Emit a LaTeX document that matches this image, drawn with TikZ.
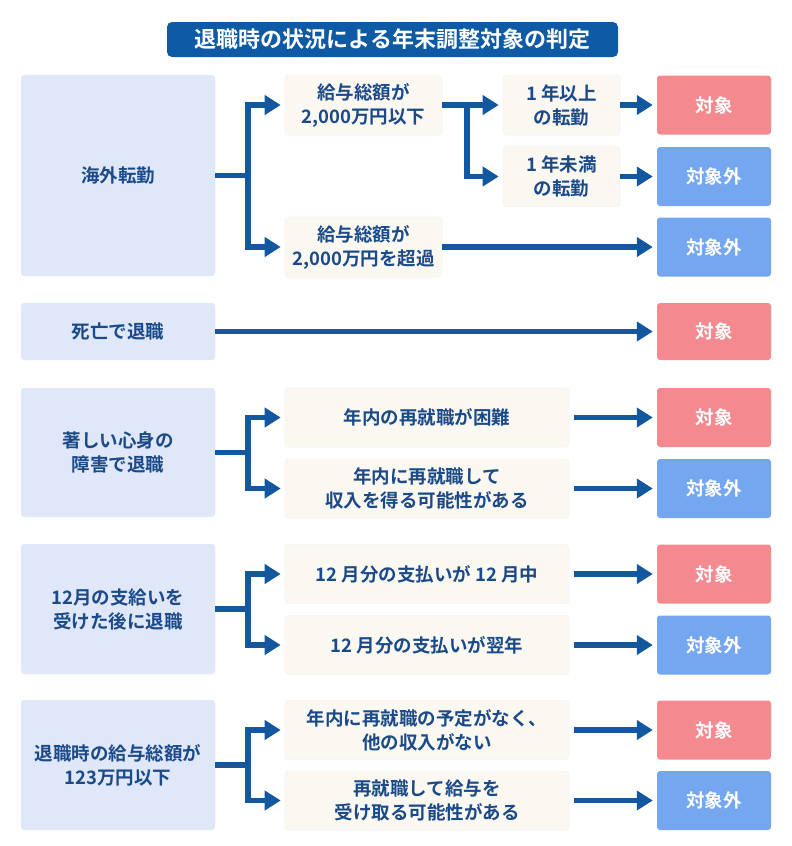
\documentclass[tikz,border=0pt]{standalone}
\usepackage{fontspec}
\setmainfont{Noto Sans CJK JP}[BoldFont=* Bold]
\usepackage{xcolor}
\usetikzlibrary{arrows.meta}
\definecolor{navy}{HTML}{1B4A88}
\definecolor{titlebg}{HTML}{0F5AA5}
\definecolor{arrblue}{HTML}{13589F}
\definecolor{leftbg}{HTML}{DFE7F9}
\definecolor{midbg}{HTML}{FBF7F1}
\definecolor{yesbg}{HTML}{F48A90}
\definecolor{nobg}{HTML}{74A7F0}

\begin{document}
\begin{tikzpicture}[x=1pt,y=-1pt,
  box/.style={rounded corners=3pt, inner sep=0pt, align=center,
    font=\fontsize{18.5}{24}\selectfont\bfseries},
  lbox/.style={box, fill=leftbg, text=navy, minimum width=194pt},
  mbox/.style={box, fill=midbg, text=navy, draw=black!4, line width=0.6pt},
  yes/.style={box, fill=yesbg, text=white, minimum width=114pt, minimum height=59pt},
  no/.style={box, fill=nobg, text=white, minimum width=114pt, minimum height=59pt},
  lin/.style={draw=arrblue, line width=5.5pt},
  arr/.style={lin, -{Triangle[length=16pt,width=19pt]}, shorten >=4pt}]
			\fill[white] (0,0) rectangle (792,846);
			\useasboundingbox (0,0) rectangle (792,846);
			\node[box, fill=titlebg, text=white, rounded corners=5pt, minimum width=451pt, minimum height=35pt,
			  font=\fontsize{22}{24}\selectfont\bfseries] (title) at (392.5,39.5) {退職時の状況による年末調整対象の判定};
			\node[lbox, minimum height=201pt] (L1) at (118,175.5) {海外転勤};
			\node[mbox, minimum width=157pt, minimum height=60pt] (M1a) at (363.5,105) {給与総額が\\2,000万円以下};
			\node[mbox, minimum width=157pt, minimum height=60pt] (M1b) at (363.5,247) {給与総額が\\2,000万円を超過};
			\node[mbox, minimum width=117pt, minimum height=60pt] (S1a) at (561.5,105) {1 年以上\\の転勤};
			\node[mbox, minimum width=117pt, minimum height=60pt] (S1b) at (561.5,176.5) {1 年未満\\の転勤};
			\node[yes] (R1a) at (714,105) {対象};
			\node[no] (R1b) at (714,176.5) {対象外};
			\node[no] (R1c) at (714,247) {対象外};
			\node[lbox, minimum height=57pt] (L2) at (118,331.5) {死亡で退職};
			\node[yes, minimum height=57pt] (R2) at (714,331.5) {対象};
			\node[lbox, minimum height=129pt] (L3) at (118,452.5) {著しい心身の\\障害で退職};
			\node[mbox, minimum width=284pt, minimum height=59pt] (M3a) at (427,417.5) {年内の再就職が困難};
			\node[mbox, minimum width=284pt, minimum height=59pt] (M3b) at (427,488.5) {年内に再就職して\\収入を得る可能性がある};
			\node[yes] (R3a) at (714,417.5) {対象};
			\node[no] (R3b) at (714,488.5) {対象外};
			\node[lbox, minimum height=130pt] (L4) at (118,609) {12月の支給いを\\受けた後に退職};
			\node[mbox, minimum width=284pt, minimum height=59pt] (M4a) at (427,574) {12 月分の支払いが 12 月中};
			\node[mbox, minimum width=284pt, minimum height=59pt] (M4b) at (427,645) {12 月分の支払いが翌年};
			\node[yes] (R4a) at (714,574) {対象};
			\node[no] (R4b) at (714,645) {対象外};
			\node[lbox, minimum height=130pt] (L5) at (118,765) {退職時の給与総額が\\123万円以下};
			\node[mbox, minimum width=284pt, minimum height=59pt] (M5a) at (427,730) {年内に再就職の予定がなく、\\他の収入がない};
			\node[mbox, minimum width=284pt, minimum height=59pt] (M5b) at (427,800.5) {再就職して給与を\\受け取る可能性がある};
			\node[yes] (R5a) at (714,730) {対象};
			\node[no] (R5b) at (714,800.5) {対象外};
			\coordinate (j1) at (248,175.5);
			\coordinate (k1) at (467,105);
			\coordinate (j3) at (248,452.5);
			\coordinate (j4) at (248,609);
			\coordinate (j5) at (248,765);
			\draw[lin] (L1.east) -- (j1);
			\draw[arr] (j1) |- (M1a.west);
			\draw[arr] (j1) |- (M1b.west);
			\draw[lin] (M1a.east) -- (k1);
			\draw[arr] (k1) -- (S1a.west);
			\draw[arr] (k1) |- (S1b.west);
			\draw[arr] (S1a) -- (R1a);
			\draw[arr] (S1b) -- (R1b);
			\draw[arr] (M1b) -- (R1c);
			\draw[arr] (L2) -- (R2);
			\foreach \r in {3,4,5} {
			  \draw[lin] (L\r.east) -- (j\r);
			  \draw[arr] (j\r) |- (M\r a.west);
			  \draw[arr] (j\r) |- (M\r b.west);
			  \draw[arr, shorten <=5pt] (M\r a) -- (R\r a);
			  \draw[arr, shorten <=5pt] (M\r b) -- (R\r b);
			}
		\end{tikzpicture}
\end{document}
